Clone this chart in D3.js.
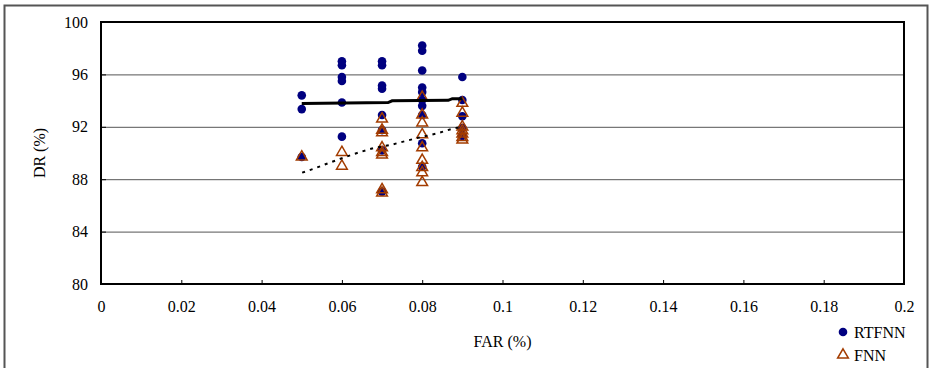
<!DOCTYPE html>
<html>
<head>
<meta charset="utf-8">
<script src="https://cdn.jsdelivr.net/npm/d3@7"></script>
<style>
  body { margin: 0; background: #fff; }
  svg { display: block; }
  svg text { font-family: "Liberation Serif", "Times New Roman", serif; }
</style>
</head>
<body>
<svg id="chart" width="935" height="368"></svg>
<script>
// FAR values (x) where the points sit
var farValues = [0.05, 0.06, 0.07, 0.08, 0.09];

// DR (%) readings for each FAR value
var rtfnnDR = [
  [94.4, 93.35, 89.7],
  [97.0, 96.7, 95.8, 95.5, 93.85, 91.25],
  [97.0, 96.7, 95.15, 94.9, 92.9, 91.75, 90.2, 87.05],
  [98.2, 97.8, 96.3, 95.0, 94.65, 94.05, 93.6, 92.9, 90.75, 88.95],
  [95.8, 94.05, 92.8, 91.9, 91.3]
];
var fnnDR = [
  [89.7],
  [90.05, 89.0],
  [92.6, 91.75, 91.55, 90.4, 90.05, 89.85, 87.2, 86.95],
  [94.25, 92.9, 92.3, 91.4, 90.4, 89.45, 88.9, 88.5, 87.75],
  [93.8, 93.05, 92.0, 91.7, 91.45, 91.2, 91.0]
];

// trend lines
var rtfnnTrend = [[0.05, 93.78], [0.0715, 93.85], [0.0725, 93.98], [0.0865, 94.02], [0.0875, 94.15], [0.09, 94.15]];
var fnnTrend = [[0.0501, 88.5], [0.053, 88.8], [0.0571, 89.28], [0.0613, 89.74], [0.0638, 90.0], [0.0678, 90.37],
                [0.0721, 90.61], [0.0753, 90.87], [0.0795, 91.2], [0.0838, 91.5], [0.0878, 91.88], [0.09, 92.0]];

var xTicks = [0, 0.02, 0.04, 0.06, 0.08, 0.1, 0.12, 0.14, 0.16, 0.18, 0.2];
var yTicks = [80, 84, 88, 92, 96, 100];
var seriesNames = ["RTFNN", "FNN"];

function drawChart() {
  var svg = d3.select("#chart");
  var pLeft = 101, pRight = 904, pTop = 22, pBottom = 284;

  var x = d3.scaleLinear().domain([0, 0.2]).range([pLeft, pRight]);
  var y = d3.scaleLinear().domain([80, 100]).range([pBottom, pTop]);

  // outer frame
  svg.append("rect")
    .attr("x", 4.5).attr("y", 5.5)
    .attr("width", 923).attr("height", 400)
    .attr("fill", "none").attr("stroke", "#555").attr("stroke-width", 2);

  // grid lines
  svg.append("g")
    .selectAll("line")
    .data(yTicks.filter(function (d) { return d > 80 && d < 100; }))
    .enter().append("line")
    .attr("x1", pLeft).attr("x2", pRight)
    .attr("y1", function (d) { return y(d) + 0.5; })
    .attr("y2", function (d) { return y(d) + 0.5; })
    .attr("stroke", "#555").attr("stroke-width", 1);

  // axes
  var xAxis = svg.append("g")
    .attr("transform", "translate(0," + pBottom + ")")
    .call(d3.axisBottom(x).tickValues(xTicks).tickSize(-4).tickPadding(17)
      .tickFormat(function (d) { return String(+d.toFixed(2)); }));
  var yAxis = svg.append("g")
    .attr("transform", "translate(" + pLeft + ",0)")
    .call(d3.axisLeft(y).tickValues(yTicks).tickSize(-5).tickPadding(13).tickFormat(d3.format("d")));

  [xAxis, yAxis].forEach(function (g) {
    g.attr("font-family", null).attr("font-size", null);
    g.select(".domain").remove();
    g.selectAll(".tick line").attr("stroke", "#000");
    g.selectAll("text").attr("fill", "#000").style("font-size", "16px");
  });

  // plot box
  svg.append("rect")
    .attr("x", pLeft).attr("y", pTop)
    .attr("width", pRight - pLeft).attr("height", pBottom - pTop)
    .attr("fill", "none").attr("stroke", "#000").attr("stroke-width", 2);

  // flatten points
  var rtPts = [], fnnPts = [];
  farValues.forEach(function (f, i) {
    rtfnnDR[i].forEach(function (v) { rtPts.push([f, v]); });
    fnnDR[i].forEach(function (v) { fnnPts.push([f, v]); });
  });

  var line = d3.line()
    .x(function (d) { return x(d[0]); })
    .y(function (d) { return y(d[1]); });

  svg.append("g").selectAll("circle")
    .data(rtPts).enter().append("circle")
    .attr("cx", function (d) { return x(d[0]); })
    .attr("cy", function (d) { return y(d[1]); })
    .attr("r", 4.3)
    .attr("fill", "#000080");

  var tri = d3.symbol().type(d3.symbolTriangle).size(50);
  svg.append("g").selectAll("path")
    .data(fnnPts).enter().append("path")
    .attr("d", tri)
    .attr("transform", function (d) { return "translate(" + x(d[0]) + "," + y(d[1]) + ")"; })
    .attr("fill", "none")
    .attr("stroke", "#a33c00").attr("stroke-width", 1.5);

  svg.append("path")
    .datum(rtfnnTrend)
    .attr("d", line)
    .attr("fill", "none").attr("stroke", "#000").attr("stroke-width", 3);

  svg.append("path")
    .datum(fnnTrend)
    .attr("d", line)
    .attr("fill", "none").attr("stroke", "#000").attr("stroke-width", 2)
    .attr("stroke-dasharray", "3,5");

  // axis titles
  svg.append("text")
    .attr("x", (pLeft + pRight) / 2).attr("y", 347)
    .attr("text-anchor", "middle").style("font-size", "16px")
    .text("FAR (%)");
  svg.append("text")
    .attr("transform", "translate(45," + ((pTop + pBottom) / 2) + ") rotate(-90)")
    .attr("text-anchor", "middle").style("font-size", "16px")
    .text("DR (%)");

  // legend
  var legend = svg.append("g");
  legend.append("circle").attr("cx", 843).attr("cy", 332).attr("r", 4.3).attr("fill", "#000080");
  legend.append("path").attr("d", tri)
    .attr("transform", "translate(843,355)")
    .attr("fill", "#fff").attr("stroke", "#a33c00").attr("stroke-width", 1.5);
  legend.selectAll("text").data(seriesNames).enter().append("text")
    .attr("x", 854)
    .attr("y", function (d, i) { return 337.5 + i * 23; })
    .style("font-size", "16px")
    .text(function (d) { return d; });
}

drawChart();
</script>
</body>
</html>
